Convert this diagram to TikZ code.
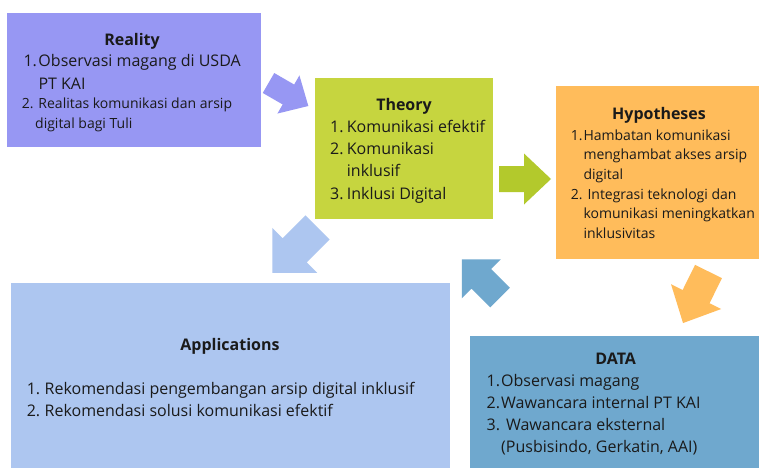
\documentclass[tikz,border=0pt]{standalone}
\usepackage{fontspec}
\setmainfont{Open Sans}
\definecolor{realc}{HTML}{9797F3}
\definecolor{theoc}{HTML}{C6D53F}
\definecolor{greenar}{HTML}{B3C92C}
\definecolor{hypc}{HTML}{FFBC5B}
\definecolor{datac}{HTML}{6FA8CE}
\definecolor{appc}{HTML}{ADC6F0}
\definecolor{txtc}{HTML}{1A1A1A}
\tikzset{
  pics/barrow/.style n args={4}{code={
    \fill[pic actions] (0,-#2/2) -- (#1-#4,-#2/2) -- (#1-#4,-#3/2) -- (#1,0)
      -- (#1-#4,#3/2) -- (#1-#4,#2/2) -- (0,#2/2) -- cycle;}},
  tsixteen/.style={anchor=base west, inner sep=0pt, text=txtc, font=\fontsize{16}{19}\selectfont},
  tfourteen/.style={anchor=base west, inner sep=0pt, text=txtc, font=\fontsize{14}{17}\selectfont},
  ttl/.style={anchor=base, inner sep=0pt, text=txtc, font=\fontsize{16}{19}\selectfont\bfseries},
}
\begin{document}
\begin{tikzpicture}[x=1pt,y=-1pt]
\useasboundingbox (0,0) rectangle (759,468);
\fill[white] (0,0) rectangle (759,468);
% boxes
\fill[realc] (7,13) rectangle (261,147);
\fill[theoc] (315,78) rectangle (493,219);
\fill[hypc] (556,86) rectangle (759,259);
\fill[appc] (11,283) rectangle (450,468);
\fill[datac] (470,336) rectangle (759,468);
% block arrows
\pic[rotate=-30, fill=realc] at (268.5,83) {barrow={46}{23}{44}{23}};
\pic[rotate=0, fill=greenar] at (499,179) {barrow={52}{26}{51}{27}};
\pic[rotate=-116.3, fill=hypc] at (708.5,271.5) {barrow={57.5}{30}{56}{29.5}};
\pic[rotate=135, fill=datac] at (500,297.5) {barrow={54}{27.6}{55}{27.6}};
\pic[rotate=-135, fill=appc] at (317.5,227.5) {barrow={64}{34}{63.6}{31.8}};
% Reality
\node[ttl] (rt) at (132,45.7) {Reality};
\node[tsixteen] (r1) at (23.3,66.7) {\makebox[15pt][l]{1.}Observasi magang di USDA};
\node[tsixteen] (r2) at (38.3,89) {PT KAI};
\node[tfourteen] (r3) at (21.7,109) {\makebox[16.6pt][l]{2.}Realitas komunikasi dan arsip};
\node[tfourteen] (r4) at (35,128.3) {digital bagi Tuli};
% Theory
\node[ttl] (tt) at (404,110.7) {Theory};
\node[tsixteen] (t1) at (330,132.7) {\makebox[16.7pt][l]{1.}Komunikasi efektif};
\node[tsixteen] (t2) at (330,154) {\makebox[16.7pt][l]{2.}Komunikasi};
\node[tsixteen] (t3) at (346.7,176.7) {inklusif};
\node[tsixteen] (t4) at (330,199) {\makebox[16.7pt][l]{3.}Inklusi Digital};
% Hypotheses
\node[ttl] (ht) at (659,119.7) {Hypotheses};
\node[tfourteen] (h1) at (570.7,140) {\makebox[12.6pt][l]{1.}Hambatan komunikasi};
\node[tfourteen] (h2) at (583.3,159.7) {menghambat akses arsip};
\node[tfourteen] (h3) at (583.3,179.4) {digital};
\node[tfourteen] (h4) at (570.7,199.2) {\makebox[16.6pt][l]{2.}Integrasi teknologi dan};
\node[tfourteen] (h5) at (583.3,218.8) {komunikasi meningkatkan};
\node[tfourteen] (h6) at (583.3,238.5) {inklusivitas};
% DATA
\node[ttl] (dt) at (615.6,364) {DATA};
\node[tsixteen] (d1) at (486.5,386.7) {\makebox[14.5pt][l]{1.}Observasi magang};
\node[tsixteen] (d2) at (486.5,408.3) {\makebox[14.5pt][l]{2.}Wawancara internal PT KAI};
\node[tsixteen] (d3) at (486.5,430) {\makebox[19.3pt][l]{3.}Wawancara eksternal};
\node[tsixteen] (d4) at (501,452) {(Pusbisindo, Gerkatin, AAI)};
% Applications
\node[ttl] (at) at (230,350) {Applications};
\node[tsixteen] (a1) at (26.6,394) {\makebox[17.9pt][l]{1.}Rekomendasi pengembangan arsip digital inklusif};
\node[tsixteen] (a2) at (26.6,416) {\makebox[17.9pt][l]{2.}Rekomendasi solusi komunikasi efektif};
\end{tikzpicture}
\end{document}
